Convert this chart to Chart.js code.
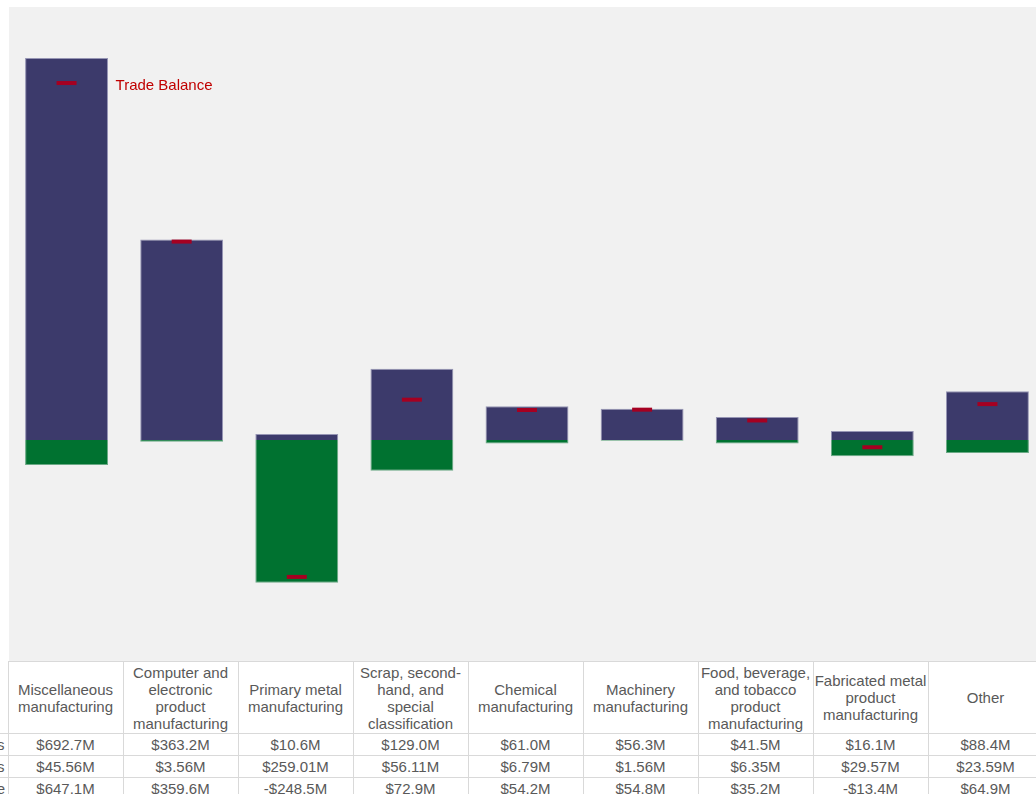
<!DOCTYPE html>
<html>
<head>
<meta charset="utf-8">
<script src="https://cdn.jsdelivr.net/npm/chart.js@4"></script>
<style>
  html, body { margin: 0; padding: 0; background: #fff; overflow: hidden; width: 1036px; height: 794px; }
  #wrap { position: absolute; left: 9px; top: 7px; width: 1036px; height: 654px; background: #f1f1f1; }
  #tbl { position: absolute; left: -92px; top: 661px; width: 1135px; border-collapse: collapse; table-layout: fixed;
         font-family: 'Liberation Sans', Arial, sans-serif; font-size: 15px; color: #595959; }
  #tbl td { border: 1px solid #d9d9d9; text-align: center; padding: 0; height: 21px; line-height: 17px; background: #fff;
            white-space: nowrap; overflow: hidden; }
  #tbl tr.head td { height: 71px; }
  #tbl td.lbl { text-align: right; padding-right: 3px; border-left: none; }
</style>
</head>
<body>
<div id="wrap"><canvas id="chart"></canvas></div>
<table id="tbl"></table>
<script>
const categories = [
  ['Miscellaneous', 'manufacturing'],
  ['Computer and', 'electronic', 'product', 'manufacturing'],
  ['Primary metal', 'manufacturing'],
  ['Scrap, second-', 'hand, and', 'special', 'classification'],
  ['Chemical', 'manufacturing'],
  ['Machinery', 'manufacturing'],
  ['Food, beverage,', 'and tobacco', 'product', 'manufacturing'],
  ['Fabricated metal', 'product', 'manufacturing'],
  ['Other']
];
const exportsM = [692.7, 363.2, 10.6, 129.0, 61.0, 56.3, 41.5, 16.1, 88.4];
const importsM = [45.56, 3.56, 259.01, 56.11, 6.79, 1.56, 6.35, 29.57, 23.59];
const balanceM = [647.1, 359.6, -248.5, 72.9, 54.2, 54.8, 35.2, -13.4, 64.9];
const rowNames = ['Exports', 'Imports', 'Trade Balance'];

// table under the chart
function money(v, d) {
  return (v < 0 ? '-$' : '$') + Math.abs(v).toFixed(d) + 'M';
}
const tbl = document.getElementById('tbl');
let html = '<colgroup><col style="width:100px">' + categories.map(() => '<col style="width:115px">').join('') + '</colgroup>';
html += '<tr class="head"><td class="lbl" style="border:none;background:transparent"></td>' +
  categories.map(c => '<td>' + c.join('<br>') + '</td>').join('') + '</tr>';
const rows = [exportsM.map(v => money(v, 1)), importsM.map(v => money(v, 2)), balanceM.map(v => money(v, 1))];
rows.forEach((r, i) => {
  html += '<tr><td class="lbl">' + rowNames[i] + '</td>' + r.map(t => '<td>' + t + '</td>').join('') + '</tr>';
});
tbl.innerHTML = html;

const balanceLabel = {
  id: 'balanceLabel',
  afterDatasetsDraw(chart) {
    const pt = chart.getDatasetMeta(2).data[0];
    const ctx = chart.ctx;
    ctx.save();
    ctx.font = "15px 'Liberation Sans', Arial, sans-serif";
    ctx.fillStyle = '#c00000';
    ctx.textBaseline = 'middle';
    ctx.fillText('Trade Balance', pt.x + 49, pt.y + 3);
    ctx.restore();
  }
};

new Chart(document.getElementById('chart'), {
  type: 'bar',
  data: {
    labels: categories,
    datasets: [{
      label: 'Exports',
      data: exportsM,
      backgroundColor: '#3c3a6b',
      borderColor: '#9695b4',
      borderWidth: 1,
      stack: 'trade',
      order: 1
    }, {
      label: 'Imports',
      data: importsM.map(v => -v),
      backgroundColor: '#007230',
      borderColor: '#6aa985',
      borderWidth: 1,
      stack: 'trade',
      order: 1
    }, {
      type: 'line',
      label: 'Trade Balance',
      data: balanceM,
      showLine: false,
      stack: 'balance',
      order: 0,
      pointStyle: 'line',
      pointRadius: 10,
      pointHoverRadius: 10,
      pointBorderWidth: 4,
      pointBorderColor: '#a50021',
      borderColor: '#a50021'
    }]
  },
  options: {
    responsive: true,
    maintainAspectRatio: false,
    animation: false,
    layout: { padding: 0, autoPadding: false },
    datasets: {
      bar: { categoryPercentage: 1, barPercentage: 0.72 }
    },
    plugins: {
      legend: { display: false },
      tooltip: { enabled: false }
    },
    scales: {
      x: {
        display: false,
        stacked: true,
        grid: { display: false }
      },
      y: {
        stacked: true,
        min: -401,
        max: 785,
        ticks: { display: false, stepSize: 200 },
        border: { display: false },
        grid: {
          drawTicks: false,
          color: c => c.tick.value === 0 ? '#d6d6d6' : 'rgba(0,0,0,0)'
        }
      }
    }
  },
  plugins: [balanceLabel]
});
</script>
</body>
</html>
